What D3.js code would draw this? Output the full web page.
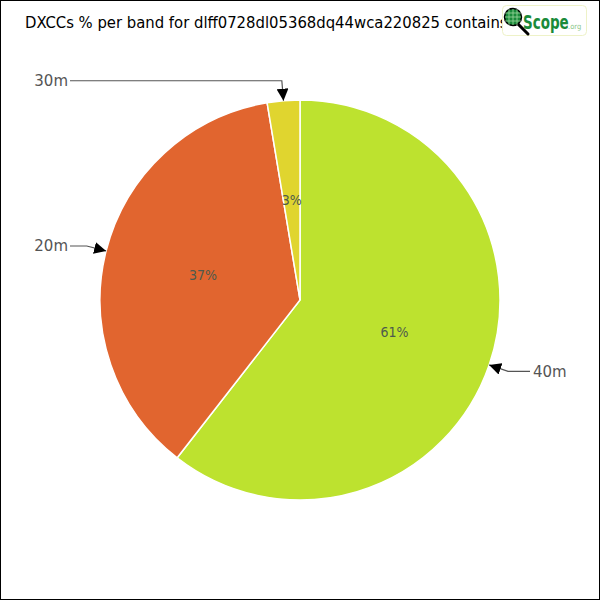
<!DOCTYPE html>
<html>
<head>
<meta charset="utf-8">
<script src="https://cdn.jsdelivr.net/npm/d3@7"></script>
<style>
  body { margin: 0; background: #fff; }
  svg { display: block; }
</style>
</head>
<body>
<div id="chart"></div>
<script>
// DXCC counts per band
const bands = ["40m", "20m", "30m"];
const counts = [23, 14, 1];
const colors = ["#bde22f", "#e1652f", "#e0d52f"];
const titleText = "DXCCs % per band for dlff0728dl05368dq44wca220825 contains";

const width = 600, height = 600;
const cx = 300, cy = 300, radius = 200;

var svg = d3.select("#chart")
            .append("svg")
            .attr("width", width)
            .attr("height", height);

// outer frame
svg.append("rect")
    .attr("x", 0.5).attr("y", 0.5)
    .attr("width", width - 1).attr("height", height - 1)
    .attr("fill", "#fff")
    .attr("stroke", "#000");

svg.append("defs").append("marker")
    .attr("id", "arrow")
    .attr("viewBox", "0 0 10 10")
    .attr("refX", 10).attr("refY", 5)
    .attr("markerWidth", 12).attr("markerHeight", 12)
    .attr("markerUnits", "userSpaceOnUse")
    .attr("orient", "auto")
    .append("path")
    .attr("d", "M0,0 L10,5 L0,10 Z")
    .attr("fill", "#000");

var data = bands.map((b, i) => ({band: b, value: counts[i], color: colors[i]}));
var total = d3.sum(counts);

var pie = d3.pie().sort(null).value(d => d.value);
var arc = d3.arc().innerRadius(0).outerRadius(radius);
var arcs = pie(data);

var g = svg.append("g").attr("transform", "translate(" + cx + "," + cy + ")");

g.selectAll("path.slice")
    .data(arcs)
    .enter()
    .append("path")
    .attr("class", "slice")
    .attr("d", arc)
    .attr("fill", d => d.data.color)
    .attr("stroke", "#fff")
    .attr("stroke-width", 1.5);

// percent labels at centroids
g.selectAll("text.pct")
    .data(arcs)
    .enter()
    .append("text")
    .attr("class", "pct")
    .attr("x", d => arc.centroid(d)[0])
    .attr("y", d => arc.centroid(d)[1])
    .attr("dy", "0.35em")
    .attr("text-anchor", "middle")
    .attr("font-family", "'DejaVu Sans Condensed', 'DejaVu Sans', sans-serif")
    .attr("font-size", 14)
    .attr("fill", "#4d5a4d")
    .text(d => Math.round(d.data.value / total * 100) + "%");

// callout lines: tip on arc, elbow further out, then horizontal
function pt(a, r) { return [r * Math.sin(a), -r * Math.cos(a)]; }
var elbowR = 220, leftX = -230, rightX = 230;

arcs.forEach(function (d) {
    var mid = (d.startAngle + d.endAngle) / 2;
    var tip = pt(mid, radius);
    var elbow = pt(mid, elbowR);
    var right = Math.sin(mid) > 0;
    var endX = right ? rightX : leftX;
    g.append("path")
        .attr("d", "M" + endX + "," + elbow[1] + " L" + elbow[0] + "," + elbow[1] + " L" + tip[0] + "," + tip[1])
        .attr("fill", "none")
        .attr("stroke", "#555")
        .attr("stroke-width", 1.2)
        .attr("marker-end", "url(#arrow)");
    g.append("text")
        .attr("x", right ? endX + 3 : endX - 2)
        .attr("y", elbow[1])
        .attr("dy", "0.35em")
        .attr("text-anchor", right ? "start" : "end")
        .attr("font-family", "'DejaVu Sans', sans-serif")
        .attr("font-size", 15)
        .attr("fill", "#555")
        .text(d.data.band);
});

// title
svg.append("text")
    .attr("x", 25).attr("y", 28)
    .attr("font-family", "'DejaVu Sans Condensed', 'DejaVu Sans', sans-serif")
    .attr("font-size", 16.5)
    .attr("fill", "#000")
    .text(titleText);

// logo box
var logo = svg.append("g").attr("transform", "translate(502,5)");
logo.append("rect")
    .attr("x", 0.5).attr("y", 0.5)
    .attr("width", 84).attr("height", 30)
    .attr("rx", 4)
    .attr("fill", "#fff")
    .attr("stroke", "#eef2c8");
logo.append("line")
    .attr("x1", 16).attr("y1", 19).attr("x2", 26).attr("y2", 29)
    .attr("stroke", "#000").attr("stroke-width", 3).attr("stroke-linecap", "round");
logo.append("circle")
    .attr("cx", 11).attr("cy", 12).attr("r", 8.5)
    .attr("fill", "#1a8a3a").attr("stroke", "#000").attr("stroke-width", 1.5);
[-4, 0, 4].forEach(function (o) {
    logo.append("line").attr("x1", 11 + o).attr("y1", 4).attr("x2", 11 + o).attr("y2", 20)
        .attr("stroke", "#9fd89f").attr("stroke-width", 0.8);
    logo.append("line").attr("x1", 3).attr("y1", 12 + o).attr("x2", 19).attr("y2", 12 + o)
        .attr("stroke", "#9fd89f").attr("stroke-width", 0.8);
});
logo.append("text")
    .attr("transform", "translate(21,24) scale(1,1.35)")
    .attr("font-family", "'DejaVu Sans Condensed', sans-serif")
    .attr("font-weight", "bold")
    .attr("font-size", 15)
    .attr("fill", "#1a8a3a")
    .text("Scope");
logo.append("text")
    .attr("x", 66).attr("y", 24)
    .attr("font-family", "'DejaVu Sans Condensed', sans-serif")
    .attr("font-size", 7.5)
    .attr("fill", "#8cc88c")
    .text(".org");
</script>
</body>
</html>
